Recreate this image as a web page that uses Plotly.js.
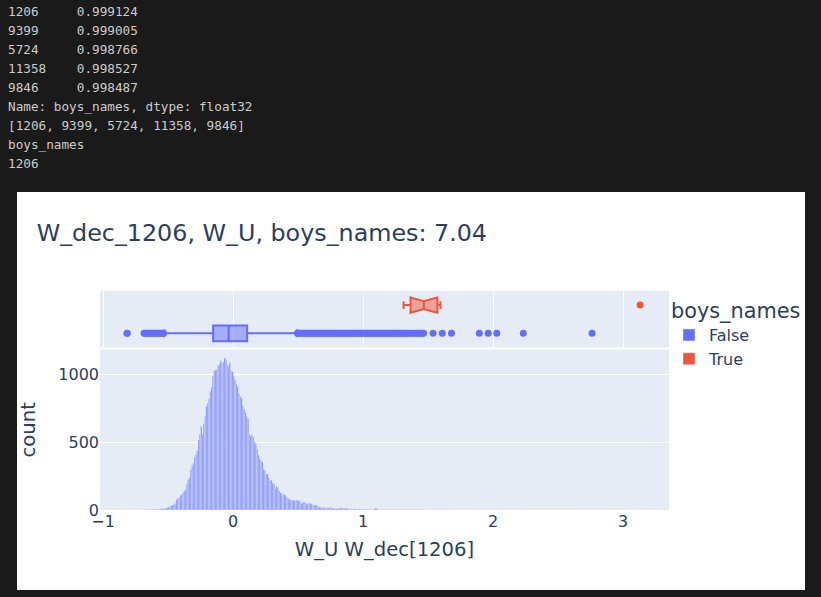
<!DOCTYPE html>
<html>
<head>
<meta charset="utf-8">
<script src="https://cdn.plot.ly/plotly-3.0.1.min.js"></script>
<style>
  html, body { margin: 0; padding: 0; background: #1a1a1a; width: 821px; height: 597px; overflow: hidden; }
  #out { position: absolute; left: 8px; top: 2px; margin: 0; font-family: "DejaVu Sans Mono", "Liberation Mono", monospace; font-size: 12.7px; line-height: 19.05px; color: #cccccc; }
  #chart { position: absolute; left: 17px; top: 192px; width: 788px; height: 398px; background: #ffffff; }
</style>
</head>
<body>
<pre id="out">1206     0.999124
9399     0.999005
5724     0.998766
11358    0.998527
9846     0.998487
Name: boys_names, dtype: float32
[1206, 9399, 5724, 11358, 9846]
boys_names
1206</pre>
<div id="chart"></div>
<script>
// ---- data ----
const binStart = -0.815;   // centre of first bin
const binWidth = 0.01;
const falseCounts = [
  1,
  0,0,0,0,0,0,0,0,0,0,0,0,
  1,2,2,3,2,3,4,4,5,5,6,6,8,9,11,
  10,12,14,18,22,28,32,37,40,50,75,85,91,108,115,126,140,150,195,225,
  240,300,330,345,390,410,440,520,560,620,565,640,700,765,790,822,
  880,909,990,1030,1035,1040,1067,1080,1104,1087,1095,1124,1111,1074,1060,1089,1030,1025,990,961,
  930,909,862,840,828,773,745,724,
  690,674,560,548,556,540,501,487,450,407,378,365,353,304,290,267,267,240,215,222,
  202,190,161,175,165,141,128,120,111,116,105,91,86,80,74,74,72,69,
  74,74,70,67,49,55,59,56,44,46,52,50,45,37,37,37,35,24,22,20,
  17,17,17,16,15,15,22,15,15,14,10,10,12,12,15,14,15,12,12,15,
  10,7,7,7,7,12,8,3,7,6,2,3,7,6,5,5,3,3,1,1,
  3,15,12,2,
  2,2,2,1,2,2,1,1,2,1,2,1,1,1,2,1,1,1,1,1,1,
  1,1,1,0,1,1,0,1,1,0,1,1,1,1
];
const falseFarValues = [-0.816, 1.538, 1.609, 1.680, 1.894, 1.962, 2.028, 2.232, 2.761];
const trueValues = [1.311, 1.365, 1.467, 1.572, 1.595, 3.131];

// box statistics
const falseBox = { q1: -0.154, median: -0.035, q3: 0.108, lower: -0.53, upper: 0.49, notch: 0.002 };
const trueBox  = { q1: 1.365, median: 1.467, q3: 1.572, lower: 1.311, upper: 1.595, notch: 0.11 };
const trueOutliers = [3.131];

const groups = ['False', 'True'];
const colors = ['#636efa', '#EF553B'];
const titleText = 'W_dec_1206, W_U, boys_names: 7.04';
const xTitle = 'W_U W_dec[1206]';
const yTitle = 'count';
const legendTitle = 'boys_names';

// ---- derived ----
const centers = falseCounts.map((_, i) => +(binStart + i * binWidth).toFixed(4));
const farOnly = falseFarValues.filter(v => v > -0.8);
const falseX = centers.concat(farOnly);
const falseY = falseCounts.concat(farOnly.map(() => 1));
const falseOutliers = centers.filter((c, i) => falseCounts[i] > 0 && (c < falseBox.lower || c > falseBox.upper))
  .concat(falseFarValues);

const traces = [
  { type: 'bar', name: groups[0], x: falseX, y: falseY, width: binWidth,
    marker: { color: colors[0], line: { color: '#E5ECF6', width: 0.5 } },
    xaxis: 'x', yaxis: 'y', legendgroup: groups[0] },
  { type: 'bar', name: groups[1], x: trueValues, y: trueValues.map(() => 1), width: binWidth,
    marker: { color: colors[1], line: { color: '#E5ECF6', width: 0.5 } },
    xaxis: 'x', yaxis: 'y', legendgroup: groups[1] },
  { type: 'box', orientation: 'h', y: [0], q1: [falseBox.q1], median: [falseBox.median], q3: [falseBox.q3],
    lowerfence: [falseBox.lower], upperfence: [falseBox.upper], notched: true, notchspan: [falseBox.notch],
    boxpoints: false, width: 0.56, marker: { color: colors[0] }, line: { color: colors[0], width: 2 },
    xaxis: 'x2', yaxis: 'y2', showlegend: false, legendgroup: groups[0] },
  { type: 'box', orientation: 'h', y: [1], q1: [trueBox.q1], median: [trueBox.median], q3: [trueBox.q3],
    lowerfence: [trueBox.lower], upperfence: [trueBox.upper], notched: true, notchspan: [trueBox.notch],
    boxpoints: false, width: 0.56, marker: { color: colors[1] }, line: { color: colors[1], width: 2 },
    xaxis: 'x2', yaxis: 'y2', showlegend: false, legendgroup: groups[1] },
  { type: 'scatter', mode: 'markers', x: falseOutliers, y: falseOutliers.map(() => 0),
    marker: { color: colors[0], size: 7 }, xaxis: 'x2', yaxis: 'y2', showlegend: false },
  { type: 'scatter', mode: 'markers', x: trueOutliers, y: trueOutliers.map(() => 1),
    marker: { color: colors[1], size: 7 }, xaxis: 'x2', yaxis: 'y2', showlegend: false }
];

const layout = {
  width: 788, height: 398,
  margin: { l: 83, r: 136, t: 99, b: 80, autoexpand: false },
  paper_bgcolor: '#ffffff', plot_bgcolor: '#E5ECF6',
  font: { family: '"DejaVu Sans", Verdana, sans-serif', color: '#2a3f5f', size: 16 },
  title: { text: titleText, x: 0.025, xanchor: 'left', y: 0.897, yanchor: 'middle', yref: 'container',
           font: { size: 23.8, color: '#2a3f5f' } },
  barmode: 'relative', bargap: 0,
  showlegend: true,
  legend: { title: { text: legendTitle, font: { size: 20.8 } }, font: { size: 16 }, tracegroupgap: 0,
            x: 1.0, xanchor: 'left', y: 1, yanchor: 'top' },
  xaxis: { domain: [0, 1], anchor: 'y', range: [-1.024, 3.353], showgrid: false, zeroline: false,
           dtick: 1, tickfont: { size: 16 }, ticks: '', automargin: false,
           title: { text: xTitle, font: { size: 19.6 }, standoff: 12 } },
  yaxis: { domain: [0, 0.7326], anchor: 'x', range: [0, 1187], dtick: 500, gridcolor: '#ffffff',
           zeroline: false, tickfont: { size: 16 }, automargin: false,
           title: { text: yTitle, font: { size: 19.6 }, standoff: 18 } },
  xaxis2: { domain: [0, 1], anchor: 'y2', matches: 'x', showticklabels: false, showgrid: true,
            gridcolor: '#ffffff', zeroline: false, dtick: 1 },
  yaxis2: { domain: [0.7426, 1], anchor: 'x2', range: [-0.5, 1.5], showticklabels: false,
            showgrid: false, zeroline: false }
};

Plotly.newPlot('chart', traces, layout, { displayModeBar: false, staticPlot: true });
</script>
</body>
</html>
